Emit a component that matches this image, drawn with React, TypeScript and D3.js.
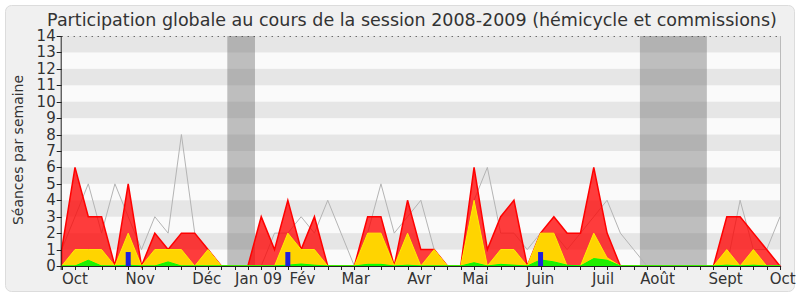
import React from "react";
import * as d3 from "d3";

// ---- data (weekly, session 2008-2009) ----
const weeks = d3.range(55);
const presence = [1,6,3,3,0,5,0,2,1,2,2,1,0,0,0,3,1,4,1,3,0,0,0,3,3,0,4,1,1,0,0,6,1,3,4,0,2,3,2,2,6,2,0,0,0,0,0,0,0,0,3,3,2,1,0];
const participation = [0,1,1,1,0,2,0,1,1,1,0,1,0,0,0,0,0,2,1,1,0,0,0,2,2,0,2,0,1,0,0,4,0,1,1,0,2,2,0,0,2,0.5,0,0,0,0,0,0,0,0,1,0,1,0,0];
const interventions = [0,0,0.35,0,0,0.05,0,0,0.25,0,0,0,0,0,0,0,0,0.05,0.12,0.05,0,0,0,0.1,0.1,0,0.05,0,0,0,0,0.2,0,0.1,0.05,0,0.37,0.25,0.05,0,0.45,0.35,0,0,0,0,0,0,0,0,0.05,0,0.05,0,0];
const questions = [0,0,0,0,0,0.85,0,0,0,0,0,0,0,0,0,0,0,0.85,0,0,0,0,0,0,0,0,0,0,0,0,0,0,0,0,0,0,0.85,0,0,0,0,0,0,0,0,0,0,0,0,0,0,0,0,0,0];
const median = [1,3,5,2,5,3,1,3,2,8,2,1,0,0,0,0,2,2,3,2,4,2,0,2,5,2,3,4,1,0,0,4,6,2,2,1,2,2,1,2,3,4,2,1,0,0,0,0,0,0,0,4,1,1,3];
const vacStart = [12.45, 43.47];
const vacEnd = [14.53, 48.5];
const monthLabels = ["Oct","Nov","Déc","Jan 09","Fév","Mar","Avr","Mai","Juin","Juil","Août","Sept","Oct"];
const monthPos = [1.0,5.9,10.9,14.8,18.1,22.1,26.9,31.1,36.0,40.7,44.8,49.9,54.2];
const yTicks = d3.range(0, 15);
const title = "Participation globale au cours de la session 2008-2009 (hémicycle et commissions)";
const yTitle = "Séances par semaine";

export default function App() {
  const W = 800, H = 300;
  const x = d3.scaleLinear().domain([0, 54]).range([61.7, 780]);
  const y = d3.scaleLinear().domain([0, 14]).range([266, 36]);
  const font = "DejaVu Sans";
  const area = (vals: number[]) =>
    d3.area<number>().x((d) => x(d)).y0(y(0)).y1((d) => y(vals[d]))(weeks) || "";
  const line = d3.line<number>().x((d) => x(d)).y((d) => y(median[d]))(weeks) || "";
  const stripes = d3.range(1, 14, 2);
  return (
    <svg width={W} height={H} style={{ position: "absolute", left: 0, top: 0 }}>
      <rect x={0} y={0} width={W} height={H} fill="#ffffff" />
      <rect x={5.5} y={5.5} width={789} height={286} rx={6} fill="#f0f0f0" stroke="#dcdcdc" />
      <text x={412} y={26} textAnchor="middle" fontFamily={font} fontSize={17.5} fill="#333">{title}</text>
      {/* plot background */}
      <rect x={x(0)} y={y(14)} width={x(54) - x(0)} height={y(0) - y(14)} fill="#fafafa" />
      {stripes.map((s) => (
        <rect key={s} x={x(0)} y={y(s + 1)} width={x(54) - x(0)} height={y(s) - y(s + 1)} fill="#e6e6e6" />
      ))}
      {vacStart.map((v, i) => (
        <rect key={i} x={x(v)} y={y(14)} width={x(vacEnd[i]) - x(v)} height={y(0) - y(14)} fill="rgb(100,100,100)" fillOpacity={0.4} />
      ))}
      <line x1={x(0)} x2={x(54)} y1={y(14) + 0.5} y2={y(14) + 0.5} stroke="#333" strokeDasharray="1,5" />
      <line x1={x(54) + 0.5} x2={x(54) + 0.5} y1={y(14)} y2={y(0)} stroke="#bbb" />
      {/* median line */}
      <path d={line} fill="none" stroke="#b4b4b4" strokeWidth={1} />
      <path d={area(presence)} fill="rgba(255,0,0,0.76)" stroke="#ff0000" strokeWidth={1.5} />
      <path d={area(participation)} fill="#ffd400" stroke="#ffee00" strokeWidth={1} />
      <path d={area(interventions)} fill="#22ee00" stroke="#00ff00" strokeWidth={1} />
      {weeks.filter((d) => questions[d] > 0).map((d) => (
        <rect key={d} x={x(d) - 2.5} y={y(questions[d])} width={5} height={y(0) - y(questions[d])} fill="#2020dd" />
      ))}
      {/* axes */}
      <line x1={x(0) - 0.5} x2={x(0) - 0.5} y1={y(14)} y2={y(0) + 4} stroke="#222" />
      <line x1={x(0)} x2={x(54)} y1={y(0) + 0.5} y2={y(0) + 0.5} stroke="#222" />
      {yTicks.map((t) => (
        <g key={t}>
          <line x1={x(0) - 5} x2={x(0)} y1={Math.round(y(t)) + 0.5} y2={Math.round(y(t)) + 0.5} stroke="#222" />
          <text x={x(0) - 6} y={y(t) + 5} textAnchor="end" fontFamily={font} fontSize={15} fill="#333">{t}</text>
        </g>
      ))}
      {weeks.map((d) => (
        <line key={d} x1={Math.round(x(d)) + 0.5} x2={Math.round(x(d)) + 0.5} y1={y(0)} y2={y(0) + 4} stroke="#222" />
      ))}
      {monthLabels.map((m, i) => (
        <text key={i} x={x(monthPos[i])} y={284} textAnchor="middle" fontFamily={font} fontSize={15} fill="#333">{m}</text>
      ))}
      <text transform={`translate(23,150) rotate(-90)`} textAnchor="middle" fontFamily={font} fontSize={14} fill="#333">{yTitle}</text>
    </svg>
  );
}
